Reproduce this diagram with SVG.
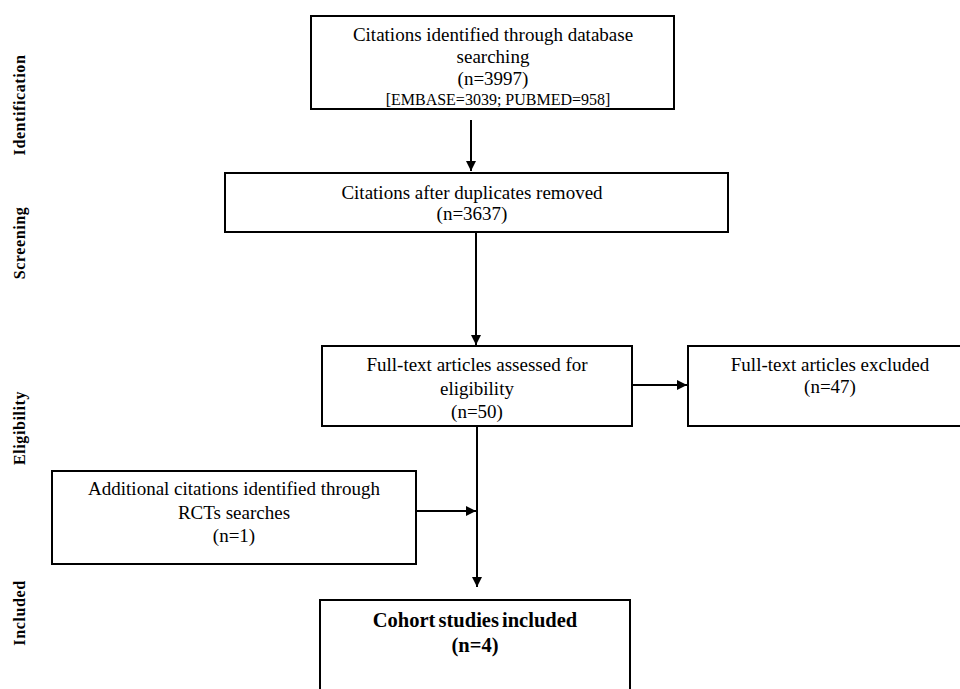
<svg xmlns="http://www.w3.org/2000/svg" width="960" height="689" viewBox="0 0 960 689">
<style>
.box{fill:#fff;stroke:#000;stroke-width:2}
.t{font-family:"Liberation Serif","Times New Roman",serif;font-size:19px;fill:#000;text-anchor:middle}
.s{font-size:16px}
.b{font-weight:bold;font-size:20.5px;word-spacing:-2px}
.side{font-family:"Liberation Serif","Times New Roman",serif;font-size:16px;font-weight:bold;letter-spacing:0.6px;fill:#000;text-anchor:middle}
.c{stroke:#000;stroke-width:2;fill:none}
</style>
<defs>
<marker id="ah" viewBox="0 0 10 10" refX="10" refY="5" markerWidth="5" markerHeight="5" orient="auto" markerUnits="strokeWidth">
<path d="M0,0 L10,5 L0,10 z" fill="#000"/>
</marker>
</defs>
<rect width="960" height="689" fill="#fff"/>
<g id="phase-labels">
<text class="side" transform="translate(25,105) rotate(-90)">Identification</text>
<text class="side" transform="translate(25,243) rotate(-90)">Screening</text>
<text class="side" transform="translate(25,428) rotate(-90)">Eligibility</text>
<text class="side" transform="translate(25,613) rotate(-90)">Included</text>
</g>
<g id="connectors">
<line class="c" x1="471" y1="120" x2="471" y2="171" marker-end="url(#ah)"/>
<line class="c" x1="476" y1="233" x2="476" y2="345" marker-end="url(#ah)"/>
<line class="c" x1="633" y1="385" x2="687" y2="385" marker-end="url(#ah)"/>
<line class="c" x1="477" y1="427" x2="477" y2="587" marker-end="url(#ah)"/>
<line class="c" x1="417" y1="511" x2="476" y2="511" marker-end="url(#ah)"/>
</g>
<g id="n1">
<rect class="box" x="311" y="16" width="363" height="93"/>
<text class="t" x="493" y="41">Citations identified through database</text>
<text class="t" x="493" y="63">searching</text>
<text class="t" x="493" y="85">(n=3997)</text>
<text class="t s" x="498" y="105">[EMBASE=3039; PUBMED=958]</text>
</g>
<g id="n2">
<rect class="box" x="225" y="173" width="503" height="59"/>
<text class="t" x="472" y="199">Citations after duplicates removed</text>
<text class="t" x="472" y="220">(n=3637)</text>
</g>
<g id="n3">
<rect class="box" x="322" y="346" width="310" height="80"/>
<text class="t" x="477" y="371">Full-text articles assessed for</text>
<text class="t" x="477" y="395">eligibility</text>
<text class="t" x="477" y="418">(n=50)</text>
</g>
<g id="n4">
<rect class="box" x="688" y="346" width="290" height="80"/>
<text class="t" x="830" y="371">Full-text articles excluded</text>
<text class="t" x="830" y="393">(n=47)</text>
</g>
<g id="n5">
<rect class="box" x="52" y="471" width="364" height="93"/>
<text class="t" x="234" y="495">Additional citations identified through</text>
<text class="t" x="234" y="519">RCTs searches</text>
<text class="t" x="234" y="542">(n=1)</text>
</g>
<g id="n6">
<rect class="box" x="320" y="600" width="310" height="100"/>
<text class="t b" x="475" y="627">Cohort studies included</text>
<text class="t b" x="475" y="652">(n=4)</text>
</g>
</svg>
